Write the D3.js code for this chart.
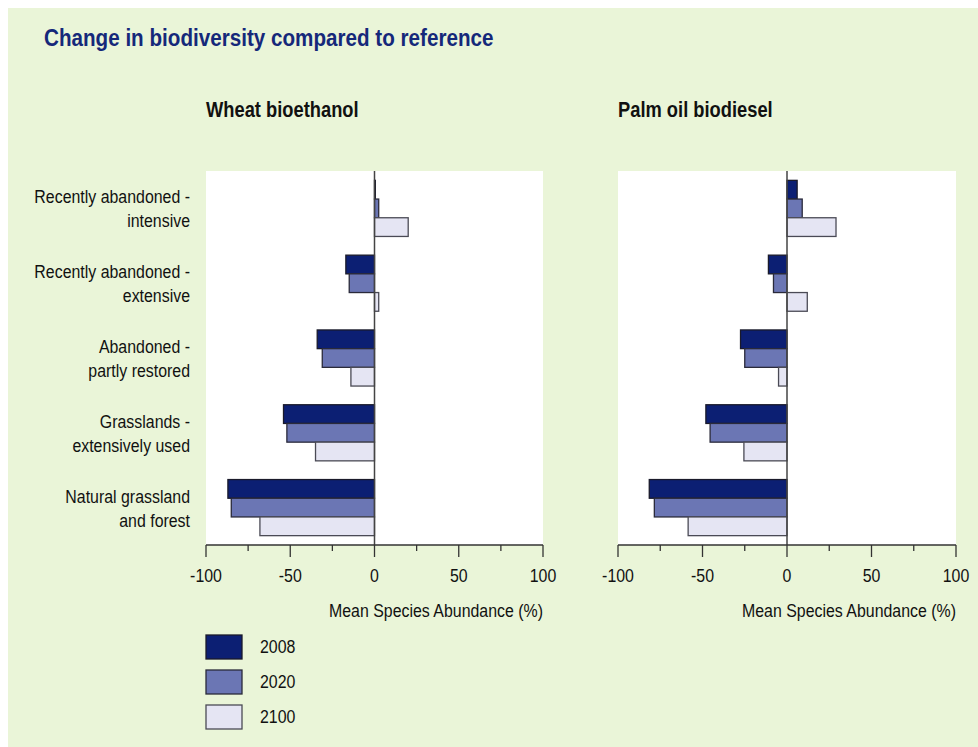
<!DOCTYPE html>
<html>
<head>
<meta charset="utf-8">
<script src="https://cdn.jsdelivr.net/npm/d3@7"></script>
<style>
  body { margin: 0; background: #fff; }
  text { font-family: "Liberation Sans", Arial, sans-serif; }
</style>
</head>
<body>
<div id="chart"></div>
<script>
// data
var categories = ["Recently abandoned - intensive", "Recently abandoned - extensive",
                  "Abandoned - partly restored", "Grasslands - extensively used",
                  "Natural grassland and forest"];
var categoryLines = [["Recently abandoned -", "intensive"], ["Recently abandoned -", "extensive"],
                     ["Abandoned -", "partly restored"], ["Grasslands -", "extensively used"],
                     ["Natural grassland", "and forest"]];
var years = ["2008", "2020", "2100"];
var wheat2008 = [0.5, -17, -34, -54, -87];
var wheat2020 = [2.5, -15, -31, -52, -85];
var wheat2100 = [20, 2.5, -14, -35, -68];
var palm2008 = [6, -11, -27.5, -48, -81.5];
var palm2020 = [9, -8, -25, -45.5, -78.5];
var palm2100 = [29, 12, -5, -25.5, -58.5];
var tickValues = [-100, -50, 0, 50, 100];
var minorTicks = [-100, -75, -50, -25, 0, 25, 50, 75, 100];

var W = 978, H = 747;
var SX = 0.86; // squeeze text sideways to get the narrow look
var color = d3.scaleOrdinal().domain(years).range(["#0c1f73", "#6b76b4", "#e5e5f3"]);
var strokeColor = d3.scaleOrdinal().domain(years).range(["#1a1a2a", "#2a2a3a", "#4a4a55"]);

var svg = d3.select("#chart").append("svg")
  .attr("width", W).attr("height", H);

// narrow text helper
function addText(parent, x, y, str, size, anchor) {
  return parent.append("text")
    .attr("transform", "translate(" + x + "," + y + ") scale(" + SX + ",1)")
    .attr("text-anchor", anchor || "start")
    .attr("font-size", size)
    .attr("fill", "#111")
    .text(str);
}

svg.append("rect").attr("x", 8).attr("y", 8).attr("width", W - 8).attr("height", H - 8)
  .attr("fill", "#eaf5d8");

addText(svg, 44, 46, "Change in biodiversity compared to reference", 24)
  .attr("font-weight", "bold").attr("fill", "#15287a");

var plotTop = 171, plotBottom = 545;
var y = d3.scaleBand().domain(categories).range([plotTop, plotBottom]).paddingInner(0.25).paddingOuter(0.125);
var yInner = d3.scaleBand().domain(years).range([0, y.bandwidth()]);

function panel(x0, x1, title, s2008, s2020, s2100, showLabels) {
  var x = d3.scaleLinear().domain([-100, 100]).range([x0, x1]);
  var g = svg.append("g");

  addText(g, x0, 117, title, 21.3).attr("font-weight", "bold");

  g.append("rect").attr("x", x0).attr("y", plotTop).attr("width", x1 - x0).attr("height", plotBottom - plotTop)
    .attr("fill", "#fff");

  var rows = categories.map(function(c, i) {
    return { cat: c, vals: [{ yr: "2008", v: s2008[i] }, { yr: "2020", v: s2020[i] }, { yr: "2100", v: s2100[i] }] };
  });

  var grp = g.selectAll(".grp").data(rows).enter().append("g")
    .attr("transform", function(d) { return "translate(0," + y(d.cat) + ")"; });

  grp.selectAll("rect").data(function(d) { return d.vals; }).enter().append("rect")
    .attr("x", function(d) { return x(Math.min(0, d.v)); })
    .attr("y", function(d) { return yInner(d.yr); })
    .attr("width", function(d) { return Math.abs(x(d.v) - x(0)); })
    .attr("height", yInner.bandwidth())
    .attr("fill", function(d) { return color(d.yr); })
    .attr("stroke", function(d) { return strokeColor(d.yr); })
    .attr("stroke-width", 1.3);

  // zero line
  g.append("line").attr("x1", x(0)).attr("x2", x(0)).attr("y1", plotTop).attr("y2", plotBottom)
    .attr("stroke", "#444").attr("stroke-width", 1.5);

  // bottom axis
  g.append("line").attr("x1", x0).attr("x2", x1).attr("y1", plotBottom).attr("y2", plotBottom)
    .attr("stroke", "#333").attr("stroke-width", 1.3);
  g.selectAll(".tk").data(minorTicks).enter().append("line")
    .attr("x1", function(d) { return x(d); }).attr("x2", function(d) { return x(d); })
    .attr("y1", plotBottom).attr("y2", function(d) { return plotBottom + (d % 50 === 0 ? 12 : 6); })
    .attr("stroke", "#333").attr("stroke-width", 1.3);
  tickValues.forEach(function(t) {
    addText(g, x(t), 582, t, 18.5, "middle");
  });

  addText(g, x1, 617, "Mean Species Abundance (%)", 18.5, "end");

  if (showLabels) {
    categories.forEach(function(c, i) {
      var cy = y(c) + y.bandwidth() / 2;
      addText(g, 190, cy - 5, categoryLines[i][0], 18.5, "end");
      addText(g, 190, cy + 19, categoryLines[i][1], 18.5, "end");
    });
  }
}

panel(206, 543, "Wheat bioethanol", wheat2008, wheat2020, wheat2100, true);
panel(618, 956, "Palm oil biodiesel", palm2008, palm2020, palm2100, false);

// legend
var leg = svg.append("g").attr("transform", "translate(206,635)");
years.forEach(function(yr, i) {
  leg.append("rect").attr("x", 0).attr("y", i * 35).attr("width", 36).attr("height", 24)
    .attr("fill", color(yr)).attr("stroke", strokeColor(yr)).attr("stroke-width", 1.3);
  addText(leg, 54, i * 35 + 18, yr, 18.5);
});
</script>
</body>
</html>
